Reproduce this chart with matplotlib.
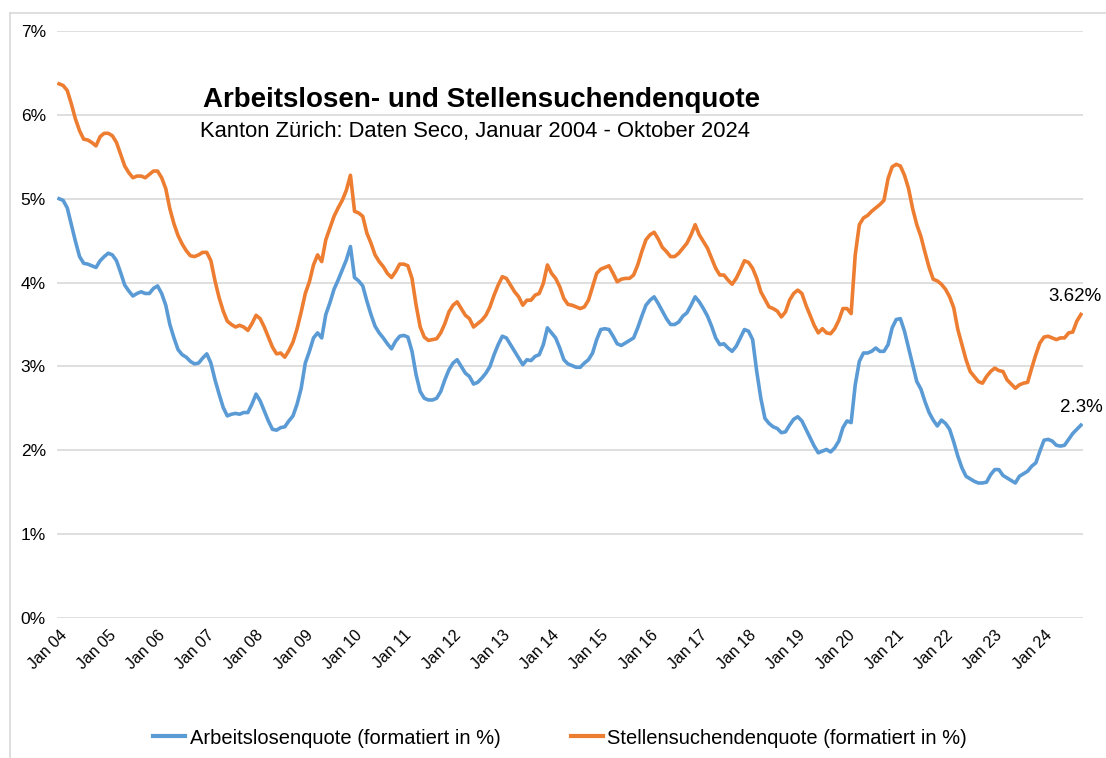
import matplotlib.pyplot as plt
from matplotlib.lines import Line2D
from matplotlib.ticker import FuncFormatter

plt.rcParams['font.family'] = ['Liberation Sans', 'DejaVu Sans']

# Monatswerte Jan 2004 - Okt 2024, Kanton Zürich (in %)
arbeitslosenquote = [
    5.00, 4.98, 4.89, 4.69, 4.49, 4.31, 4.23, 4.22, 4.20, 4.18, 4.26, 4.31,
    4.35, 4.33, 4.26, 4.12, 3.97, 3.90, 3.84, 3.87, 3.89, 3.87, 3.87, 3.93,
    3.96, 3.87, 3.73, 3.50, 3.34, 3.20, 3.14, 3.11, 3.06, 3.03, 3.04, 3.10,
    3.15, 3.04, 2.84, 2.67, 2.51, 2.41, 2.43, 2.44, 2.43, 2.45, 2.45, 2.55,
    2.67, 2.59, 2.47, 2.35, 2.25, 2.24, 2.27, 2.28, 2.35, 2.41, 2.55, 2.74,
    3.04, 3.18, 3.34, 3.40, 3.34, 3.62, 3.76, 3.92, 4.03, 4.15, 4.27, 4.43,
    4.06, 4.02, 3.96, 3.78, 3.62, 3.48, 3.40, 3.34, 3.27, 3.21, 3.30, 3.36,
    3.37, 3.35, 3.18, 2.90, 2.70, 2.62, 2.60, 2.60, 2.62, 2.70, 2.84, 2.96,
    3.04, 3.08, 3.00, 2.92, 2.88, 2.79, 2.81, 2.86, 2.92, 3.00, 3.14, 3.26,
    3.36, 3.34, 3.26, 3.18, 3.10, 3.02, 3.08, 3.07, 3.12, 3.14, 3.26, 3.46,
    3.40, 3.34, 3.22, 3.08, 3.03, 3.01, 2.99, 2.99, 3.04, 3.08, 3.16, 3.32,
    3.44, 3.45, 3.44, 3.36, 3.27, 3.25, 3.28, 3.31, 3.34, 3.46, 3.60, 3.73,
    3.79, 3.83, 3.75, 3.66, 3.57, 3.50, 3.50, 3.53, 3.60, 3.64, 3.73, 3.83,
    3.77, 3.69, 3.60, 3.48, 3.34, 3.26, 3.27, 3.22, 3.18, 3.24, 3.34, 3.44,
    3.42, 3.32, 2.94, 2.62, 2.38, 2.32, 2.28, 2.26, 2.21, 2.22, 2.30, 2.37,
    2.40, 2.35, 2.25, 2.15, 2.05, 1.97, 1.99, 2.01, 1.98, 2.03, 2.11, 2.27,
    2.35, 2.33, 2.78, 3.06, 3.16, 3.16, 3.18, 3.22, 3.18, 3.18, 3.26, 3.46,
    3.56, 3.57, 3.42, 3.22, 3.02, 2.82, 2.73, 2.58, 2.45, 2.36, 2.29, 2.36,
    2.32, 2.25, 2.10, 1.93, 1.79, 1.69, 1.66, 1.63, 1.61, 1.61, 1.62, 1.71,
    1.77, 1.77, 1.70, 1.67, 1.64, 1.61, 1.69, 1.72, 1.75, 1.81, 1.85, 1.99,
    2.12, 2.13, 2.11, 2.06, 2.05, 2.06, 2.13, 2.20, 2.25, 2.30,
]

stellensuchendenquote = [
    6.37, 6.35, 6.29, 6.13, 5.95, 5.81, 5.71, 5.70, 5.67, 5.63, 5.74, 5.78,
    5.78, 5.75, 5.67, 5.53, 5.39, 5.31, 5.25, 5.27, 5.27, 5.25, 5.29, 5.33,
    5.33, 5.25, 5.12, 4.88, 4.70, 4.56, 4.46, 4.38, 4.32, 4.31, 4.33, 4.36,
    4.36, 4.26, 4.02, 3.82, 3.66, 3.54, 3.50, 3.47, 3.49, 3.47, 3.43, 3.51,
    3.61, 3.57, 3.47, 3.35, 3.23, 3.15, 3.16, 3.11, 3.19, 3.29, 3.45, 3.65,
    3.87, 4.01, 4.21, 4.33, 4.25, 4.51, 4.65, 4.79, 4.89, 4.98, 5.10, 5.28,
    4.85, 4.83, 4.79, 4.59, 4.47, 4.33, 4.25, 4.19, 4.11, 4.06, 4.13, 4.22,
    4.22, 4.20, 4.05, 3.73, 3.47, 3.35, 3.31, 3.32, 3.33, 3.40, 3.51, 3.65,
    3.73, 3.77, 3.69, 3.61, 3.57, 3.47, 3.51, 3.55, 3.61, 3.71, 3.85, 3.97,
    4.07, 4.05, 3.97, 3.89, 3.83, 3.73, 3.79, 3.79, 3.85, 3.87, 3.99, 4.21,
    4.11, 4.05, 3.95, 3.81, 3.74, 3.73, 3.71, 3.69, 3.71, 3.79, 3.95, 4.11,
    4.16, 4.18, 4.20, 4.11, 4.01, 4.04, 4.05, 4.05, 4.09, 4.21, 4.37, 4.51,
    4.57, 4.60, 4.52, 4.42, 4.37, 4.31, 4.31, 4.35, 4.41, 4.47, 4.57, 4.69,
    4.57, 4.49, 4.41, 4.29, 4.17, 4.09, 4.09, 4.03, 3.98, 4.05, 4.15, 4.26,
    4.24, 4.17, 4.05, 3.89, 3.80, 3.71, 3.69, 3.66, 3.59, 3.65, 3.79, 3.87,
    3.91, 3.87, 3.73, 3.61, 3.49, 3.40, 3.45, 3.40, 3.39, 3.45, 3.55, 3.69,
    3.69, 3.63, 4.33, 4.69, 4.77, 4.80, 4.85, 4.89, 4.93, 4.98, 5.24, 5.38,
    5.41, 5.39, 5.28, 5.12, 4.88, 4.69, 4.55, 4.36, 4.18, 4.04, 4.02, 3.98,
    3.92, 3.83, 3.70, 3.44, 3.26, 3.08, 2.94, 2.88, 2.82, 2.80, 2.88, 2.94,
    2.98, 2.95, 2.94, 2.84, 2.79, 2.74, 2.78, 2.80, 2.81, 2.98, 3.14, 3.28,
    3.35, 3.36, 3.34, 3.32, 3.34, 3.34, 3.40, 3.41, 3.54, 3.62,
]

jahre = ["04", "05", "06", "07", "08", "09", "10", "11", "12", "13", "14",
         "15", "16", "17", "18", "19", "20", "21", "22", "23", "24"]
tick_labels = ["Jan " + j for j in jahre]

blau = "#5B9BD5"
orange = "#ED7D31"

fig = plt.figure(figsize=(11.06, 7.58), dpi=100)
ax = fig.add_axes([57 / 1106, 140 / 758, 1026 / 1106, 587 / 758])

monate = range(len(arbeitslosenquote))
ax.plot(monate, arbeitslosenquote, color=blau, lw=2.6, solid_joinstyle="round")
ax.plot(monate, stellensuchendenquote, color=orange, lw=2.6, solid_joinstyle="round")

ax.set_xlim(-0.5, len(arbeitslosenquote) - 0.5)
ax.set_ylim(0, 7)
ax.set_yticks(range(0, 8))
ax.yaxis.set_major_formatter(FuncFormatter(lambda v, p: f"{int(v)}%"))
ax.set_xticks([12 * k for k in range(len(tick_labels))])
ax.set_xticklabels(tick_labels, rotation=45, ha="right", rotation_mode="anchor")
ax.tick_params(axis="both", length=0, colors="black")
ax.tick_params(axis="y", pad=8, labelsize=12.5)
ax.tick_params(axis="x", pad=7, labelsize=11.5)
ax.grid(axis="y", color="#d9d9d9", lw=1.2)
ax.set_axisbelow(True)
for s in ax.spines.values():
    s.set_visible(False)

# Endwerte
ax.annotate(f"{stellensuchendenquote[-1]:.2f}%", xy=(len(stellensuchendenquote) - 1, stellensuchendenquote[-1]),
            xytext=(15, 13), textcoords="offset points", ha="right", va="center", fontsize=13.5)
ax.annotate(f"{arbeitslosenquote[-1]:.1f}%", xy=(len(arbeitslosenquote) - 1, arbeitslosenquote[-1]),
            xytext=(16, 13), textcoords="offset points", ha="right", va="center", fontsize=13.5)

fig.text(203 / 1106, 1 - 100 / 758, "Arbeitslosen- und Stellensuchendenquote",
         fontsize=20, fontweight="bold", va="center", ha="left")
fig.text(200 / 1106, 1 - 131 / 758, "Kanton Zürich: Daten Seco, Januar 2004 - Oktober 2024",
         fontsize=15.8, va="center", ha="left")

handles = [Line2D([], [], color=blau, lw=3),
           Line2D([], [], color=orange, lw=3)]
fig.legend(handles, ["Arbeitslosenquote (formatiert in %)", "Stellensuchendenquote (formatiert in %)"],
           loc="center", bbox_to_anchor=(560 / 1106, 1 - 738 / 758), ncol=2, frameon=False,
           fontsize=14.5, handlelength=1.6, handletextpad=0.2, columnspacing=3.5)

# Rahmen des Diagramms
fig.add_artist(plt.Line2D([10 / 1106, 10 / 1106], [0, 1 - 13 / 758], transform=fig.transFigure,
                          color="#d9d9d9", lw=1.2))
fig.add_artist(plt.Line2D([10 / 1106, 1], [1 - 13 / 758, 1 - 13 / 758], transform=fig.transFigure,
                          color="#d9d9d9", lw=1.2))

fig.savefig("out.png", dpi=100)
